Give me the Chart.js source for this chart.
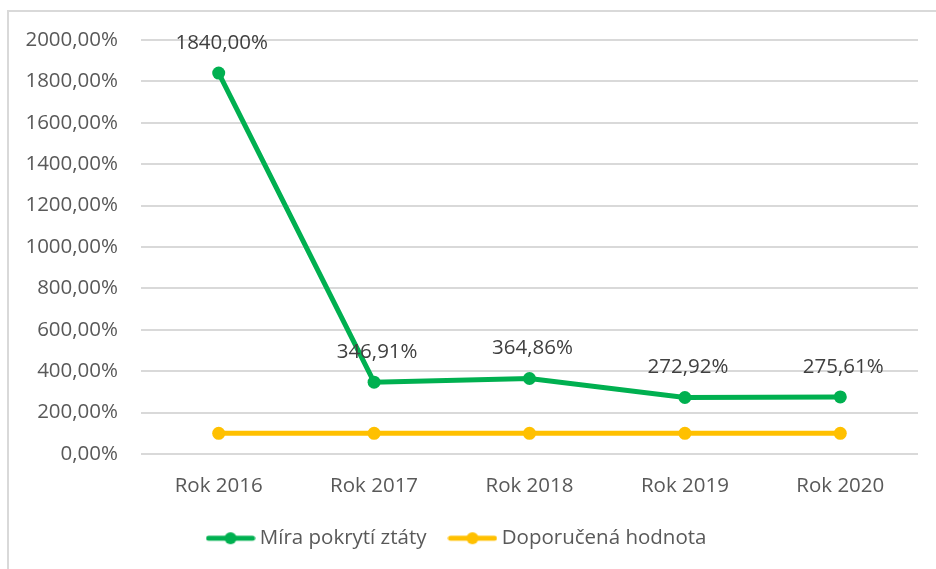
<!DOCTYPE html>
<html>
<head>
<meta charset="utf-8">
<script src="https://cdn.jsdelivr.net/npm/chart.js@4"></script>
<style>
  body { margin: 0; background: #fff; }
</style>
</head>
<body>
<canvas id="chart" width="936" height="569"></canvas>
<script>
// Data
const years = ["Rok 2016", "Rok 2017", "Rok 2018", "Rok 2019", "Rok 2020"];
const coverage = [1840.0, 346.91, 364.86, 272.92, 275.61];
const recommended = [100, 100, 100, 100, 100];
const seriesNames = ["Míra pokrytí ztáty", "Doporučená hodnota"];

const GREEN = "#00B050";
const YELLOW = "#FFC000";
const FONT = "'Open Sans', 'Liberation Sans', sans-serif";
const FSIZE = 20.5;

function fmt(v) {
  return v.toFixed(2).replace(".", ",") + "%";
}

// small line+dot marker for the legend
function legendMarker(color) {
  const c = document.createElement("canvas");
  c.width = 50;
  c.height = 14;
  const g = c.getContext("2d");
  g.strokeStyle = color;
  g.lineWidth = 5;
  g.lineCap = "round";
  g.beginPath();
  g.moveTo(3, 7);
  g.lineTo(47, 7);
  g.stroke();
  g.fillStyle = color;
  g.beginPath();
  g.arc(25, 7, 6, 0, Math.PI * 2);
  g.fill();
  return c;
}

// outer frame of the chart
const framePlugin = {
  id: "frame",
  beforeDraw(chart) {
    const ctx = chart.ctx;
    ctx.save();
    ctx.strokeStyle = "#d9d9d9";
    ctx.lineWidth = 2;
    ctx.strokeRect(8, 11, 1000, 1000);
    ctx.restore();
  },
};

// value labels above the green points
const labelsPlugin = {
  id: "valueLabels",
  afterDatasetsDraw(chart) {
    const ctx = chart.ctx;
    const meta = chart.getDatasetMeta(0);
    ctx.save();
    ctx.font = FSIZE + "px " + FONT;
    ctx.fillStyle = "#404040";
    ctx.textAlign = "center";
    ctx.textBaseline = "middle";
    meta.data.forEach((pt, i) => {
      ctx.fillText(fmt(coverage[i]), pt.x + 3, pt.y - 30);
    });
    ctx.restore();
  },
};

new Chart(document.getElementById("chart"), {
  type: "line",
  data: {
    labels: years,
    datasets: [
      {
        label: seriesNames[0],
        data: coverage,
        borderColor: GREEN,
        backgroundColor: GREEN,
        borderWidth: 5,
        pointRadius: 6.5,
        pointBackgroundColor: GREEN,
        pointBorderWidth: 0,
        tension: 0,
      },
      {
        label: seriesNames[1],
        data: recommended,
        borderColor: YELLOW,
        backgroundColor: YELLOW,
        borderWidth: 5,
        pointRadius: 6.5,
        pointBackgroundColor: YELLOW,
        pointBorderWidth: 0,
        tension: 0,
      },
    ],
  },
  options: {
    responsive: false,
    animation: false,
    devicePixelRatio: 1,
    layout: { padding: { top: 40, right: 18, bottom: 10.5, left: 0 } },
    scales: {
      x: {
        offset: true,
        grid: { display: false, drawTicks: false },
        border: { display: false },
        ticks: { color: "#595959", font: { family: FONT, size: FSIZE }, padding: 20 },
        afterFit(s) { s.height = 47; },
      },
      y: {
        min: 0,
        max: 2000,
        grid: { color: "#d9d9d9", lineWidth: 2, drawTicks: false },
        border: { display: false },
        ticks: {
          stepSize: 200,
          color: "#595959",
          font: { family: FONT, size: FSIZE },
          padding: 23,
          callback: (v) => fmt(v),
        },
        afterFit(s) { s.width = 141; },
      },
    },
    plugins: {
      tooltip: { enabled: false },
      legend: {
        position: "bottom",
        labels: {
          color: "#595959",
          font: { family: FONT, size: FSIZE },
          usePointStyle: true,
          pointStyleWidth: 38,
          padding: 27,
          generateLabels(chart) {
            return chart.data.datasets.map((ds, i) => ({
              text: ds.label,
              fillStyle: ds.borderColor,
              strokeStyle: ds.borderColor,
              lineWidth: 0,
              pointStyle: legendMarker(ds.borderColor),
              datasetIndex: i,
              fontColor: "#595959",
            }));
          },
        },
      },
    },
  },
  plugins: [framePlugin, labelsPlugin],
});
</script>
</body>
</html>
